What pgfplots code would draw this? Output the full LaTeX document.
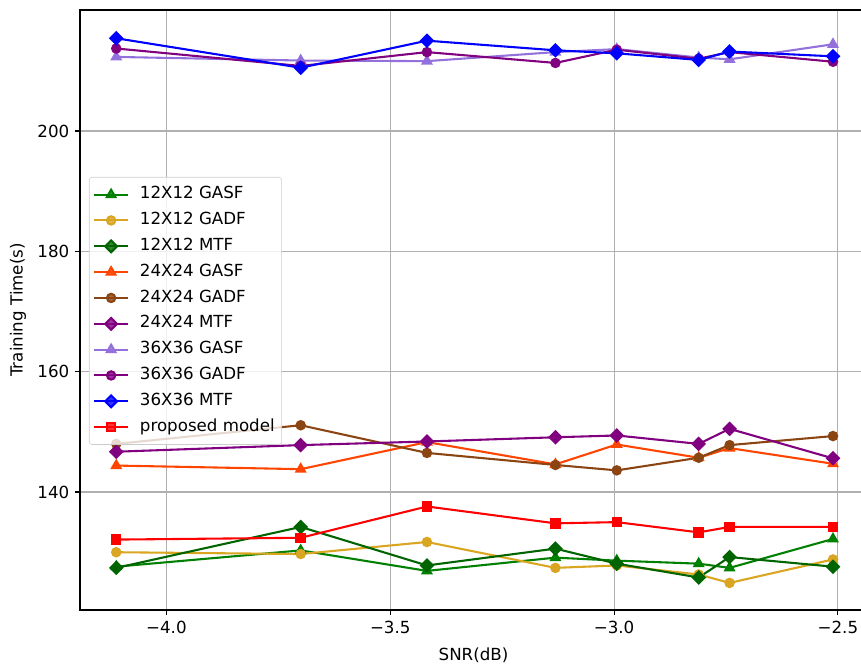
\documentclass[border=0pt]{standalone}
\usepackage{pgfplots}
\pgfplotsset{compat=1.18}
\usepackage{fontspec}
\setmainfont{DejaVu Sans}
\definecolor{cgreen}{RGB}{0,128,0}
\definecolor{cgold}{RGB}{218,165,32}
\definecolor{cdkgreen}{RGB}{0,100,0}
\definecolor{corange}{RGB}{255,69,0}
\definecolor{cbrown}{RGB}{139,69,19}
\definecolor{cpurple}{RGB}{128,0,128}
\definecolor{clav}{RGB}{147,112,219}
\definecolor{cblue}{RGB}{0,0,255}
\definecolor{cred}{RGB}{255,0,0}
\definecolor{cgrid}{RGB}{176,176,176}
\begin{document}
\fontsize{12}{14.4}\selectfont
\begin{tikzpicture}[font=\fontsize{12}{14.4}\selectfont]
\begin{axis}[
  at={(0,0)}, anchor=south west,
  width=566.64pt, height=432pt, scale only axis,
  xmin=-4.193, xmax=-2.435, ymin=120.4, ymax=220.1,
  xtick={-4,-3.5,-3,-2.5},
  xticklabels={−4.0,−3.5,−3.0,−2.5},
  ytick={140,160,180,200},
  yticklabels={140,160,180,200},
  grid=major,
  grid style={cgrid, line width=0.8pt},
  axis line style={line width=0.8pt},
  tick align=outside, tick pos=left,
  major tick length=3.5pt,
  tick style={line width=0.8pt, black},
  tick label style={font=\fontsize{12}{14.4}\selectfont},
  label style={font=\fontsize{12}{14.4}\selectfont},
  xlabel={SNR(dB)}, ylabel={Training Time(s)},
  xlabel style={at={(axis description cs:0.5,-0.075)}, anchor=center},
  ylabel style={at={(axis description cs:-0.0788,0.5)}, anchor=center, rotate=0},
  legend cell align=left,
  legend style={at={(0.0114,0.7217)}, anchor=north west,
    font=\fontsize{12}{14.4}\selectfont,
    draw={rgb,255:red,204;green,204;blue,204}, rounded corners=2pt,
    fill=white, fill opacity=0.8, text opacity=1,
    row sep=2.6pt, column sep=6pt, inner xsep=3pt, inner ysep=4.5pt,
    nodes={inner sep=2pt, text height=9pt, text depth=3pt}},
  legend image code/.code={\draw[mark repeat=2,mark phase=2,#1] plot coordinates {(0pt,0pt) (12pt,0pt) (24pt,0pt)};},
  every axis plot/.append style={line width=1.5pt},
]
% 12X12 GASF
\addplot[color=cgreen, mark=triangle*, mark size=3.5pt, mark options={solid}] coordinates {
(-4.112,127.6) (-3.700,130.3) (-3.418,126.9) (-3.131,129.1) (-2.994,128.6) (-2.811,128.1) (-2.742,127.4) (-2.511,132.2)};
\addlegendentry{12X12 GASF}
% 12X12 GADF
\addplot[color=cgold, mark=*, mark size=3pt, mark options={solid}] coordinates {
(-4.112,130.0) (-3.700,129.7) (-3.418,131.7) (-3.131,127.4) (-2.994,127.8) (-2.811,126.3) (-2.742,124.9) (-2.511,128.8)};
\addlegendentry{12X12 GADF}
% 12X12 MTF
\addplot[color=cdkgreen, mark=square*, mark size=3pt, mark options={solid, rotate=45}] coordinates {
(-4.112,127.4) (-3.700,134.2) (-3.418,127.8) (-3.131,130.6) (-2.994,128.1) (-2.811,125.8) (-2.742,129.2) (-2.511,127.6)};
\addlegendentry{12X12 MTF}
% 24X24 GASF
\addplot[color=corange, mark=triangle*, mark size=3.5pt, mark options={solid}] coordinates {
(-4.112,144.4) (-3.700,143.8) (-3.418,148.3) (-3.131,144.6) (-2.994,147.9) (-2.811,145.7) (-2.742,147.3) (-2.511,144.7)};
\addlegendentry{24X24 GASF}
% 24X24 GADF
\addplot[color=cbrown, mark=*, mark size=3pt, mark options={solid}] coordinates {
(-4.112,148.0) (-3.700,151.1) (-3.418,146.5) (-3.131,144.5) (-2.994,143.6) (-2.811,145.7) (-2.742,147.8) (-2.511,149.3)};
\addlegendentry{24X24 GADF}
% 24X24 MTF
\addplot[color=cpurple, mark=square*, mark size=3pt, mark options={solid, rotate=45}] coordinates {
(-4.112,146.7) (-3.700,147.8) (-3.418,148.4) (-3.131,149.1) (-2.994,149.4) (-2.811,148.0) (-2.742,150.5) (-2.511,145.6)};
\addlegendentry{24X24 MTF}
% 36X36 GASF
\addplot[color=clav, mark=triangle*, mark size=3.5pt, mark options={solid}] coordinates {
(-4.112,212.3) (-3.700,211.7) (-3.418,211.6) (-3.131,213.1) (-2.994,213.6) (-2.811,212.2) (-2.742,211.9) (-2.511,214.4)};
\addlegendentry{36X36 GASF}
% 36X36 GADF
\addplot[color=cpurple, mark=*, mark size=3pt, mark options={solid}] coordinates {
(-4.112,213.7) (-3.700,210.8) (-3.418,213.1) (-3.131,211.3) (-2.994,213.5) (-2.811,212.0) (-2.742,213.1) (-2.511,211.5)};
\addlegendentry{36X36 GADF}
% 36X36 MTF
\addplot[color=cblue, mark=square*, mark size=3pt, mark options={solid, rotate=45}] coordinates {
(-4.112,215.4) (-3.700,210.5) (-3.418,215.0) (-3.131,213.4) (-2.994,212.9) (-2.811,211.8) (-2.742,213.2) (-2.511,212.4)};
\addlegendentry{36X36 MTF}
% proposed
\addplot[color=cred, mark=square*, mark size=3pt, mark options={solid}] coordinates {
(-4.112,132.1) (-3.700,132.4) (-3.418,137.6) (-3.131,134.8) (-2.994,135.0) (-2.811,133.3) (-2.742,134.2) (-2.511,134.2)};
\addlegendentry{proposed model}
\end{axis}
\pgfresetboundingbox
\useasboundingbox (-57.6pt,-38.88pt) rectangle (562.32pt,439.2pt);
\end{tikzpicture}
\end{document}
